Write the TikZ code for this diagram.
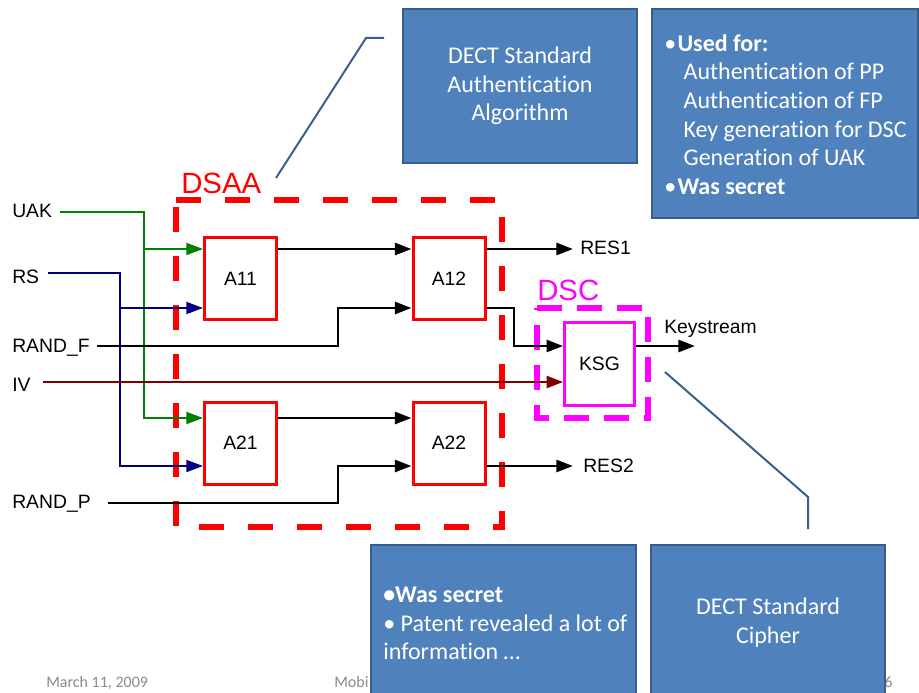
\documentclass[tikz,border=0pt]{standalone}
\usepackage{fontspec}
\setmainfont{Liberation Sans}
\newfontfamily\calibri[Ligatures={NoCommon}]{Carlito}
\usetikzlibrary{arrows.meta,calc}
\definecolor{boxblue}{HTML}{4F81BD}
\definecolor{boxedge}{HTML}{385D8A}
\definecolor{wgreen}{HTML}{008000}
\definecolor{wnavy}{HTML}{000080}
\definecolor{wdred}{HTML}{800000}
\definecolor{callout}{HTML}{3B5F8E}
\definecolor{footgray}{HTML}{8A8A8A}
\definecolor{dscmag}{RGB}{255,0,255}
\definecolor{dsared}{RGB}{255,0,0}
\begin{document}
\begin{tikzpicture}[x=0.75pt,y=-0.75pt,
  lab/.style={font=\fontsize{14.5}{17}\selectfont, inner sep=0pt},
  biglab/.style={font=\fontsize{22}{26}\selectfont, inner sep=0pt, anchor=base west},
  algbox/.style={draw=dsared, line width=2.25pt, minimum width=54pt, minimum height=61.5pt, inner sep=0pt, font=\fontsize{14.5}{17}\selectfont},
  ksgbox/.style={draw=dscmag, line width=2pt, minimum width=52.5pt, minimum height=62.25pt, inner sep=0pt, font=\fontsize{14.5}{17}\selectfont},
  bluebox/.style={draw=boxedge, line width=1.5pt, fill=boxblue, text=white, font=\calibri\fontsize{18}{21.5}\selectfont, inner sep=0pt},
  boxtext/.style={text=white, font=\calibri\fontsize{18}{21.5}\selectfont, inner sep=0pt, align=left, anchor=west},
  tip/.style={-{Triangle[length=12.5pt,width=9pt]}},
  bw/.style={line width=2pt, black},
  gw/.style={line width=1.4pt, wgreen},
  nw/.style={line width=1.4pt, wnavy},
  ivw/.style={line width=2pt, wdred},
  co/.style={line width=1.5pt, callout},
  foot/.style={font=\calibri\fontsize{12}{14}\selectfont, text=footgray, inner sep=0pt, anchor=base west},
]
\useasboundingbox (0,0) rectangle (919,692);
\clip (0,0) rectangle (919,692);
\fill[white] (0,0) rectangle (919,692);

% helper rows / columns
\coordinate (yA) at (0,249);
\coordinate (yB) at (0,308);
\coordinate (yF) at (0,346);
\coordinate (yC) at (0,418);
\coordinate (yD) at (0,466);
\coordinate (xU) at (144,0);
\coordinate (xR) at (120,0);
\coordinate (xF) at (338,0);
\coordinate (xK) at (514,0);

% dashed groups
\draw[dsared, line width=4pt, dash pattern=on 18.75pt off 18pt] (176,200) -- (502,200) -- (502,527) -- (176,527) -- cycle;
\draw[dscmag, line width=4pt, dash pattern=on 18.75pt off 11.25pt] (537,308) -- (648,308) -- (648,418) -- (537,418) -- cycle;
\node[biglab, text=dsared] (dsaalab) at (181,193) {DSAA};
\node[biglab, text=dscmag] (dsclab) at (537,300) {DSC};

% input labels
\node[lab, anchor=base west] (uak) at (12,217) {UAK};
\node[lab, anchor=base west] (rs) at (12,283) {RS};
\node[lab, anchor=base west] (randf) at (12,352) {RAND\_F};
\node[lab, anchor=base west] (iv) at (12,391) {IV};
\node[lab, anchor=base west] (randp) at (12,508) {RAND\_P};

% blocks
\node[algbox] (A11) at (240.5,278.5) {A11};
\node[algbox] (A21) at (240.5,443) {A21};
\node[algbox] (A12) at (449,278.5) {A12};
\node[algbox] (A22) at (449,443) {A22};
\node[ksgbox] (KSG) at (599.5,364) {KSG};

% output labels
\node[lab, anchor=base west] (res1) at (580,254) {RES1};
\node[lab, anchor=base west] (res2) at (583,472) {RES2};
\node[lab, anchor=base west] (ks) at (664,333) {Keystream};

% wire starts
\coordinate (uakS) at (60,212);
\coordinate (rsS) at (48,273);
\coordinate (rfS) at (97,346);
\coordinate (ivS) at (43,382);
\coordinate (rpS) at (108,503);
\coordinate (ksE) at (695,346);

% UAK
\draw[gw,tip] (uakS) -| (xU|-yC) -- (A21.west|-yC);
\draw[gw,tip] (xU|-yA) -- (A11.west|-yA);
% RS
\draw[nw,tip] (rsS) -| (xR|-yD) -- (A21.west|-yD);
\draw[nw,tip] (xR|-yB) -- (A11.west|-yB);
% RAND_F
\draw[bw,tip] (rfS) -- (xF|-rfS) |- (A12.west|-yB);
% IV
\draw[ivw,tip] (ivS) -- (KSG.west|-ivS);
% RAND_P
\draw[bw,tip] (rpS) -- (xF|-rpS) |- (A22.west|-yD);
% internal
\draw[bw,tip] (A11.east|-yA) -- (A12.west|-yA);
\draw[bw,tip] (A21.east|-yC) -- (A22.west|-yC);
\draw[bw,tip] (A12.east|-yA) -- ($(res1.west|-yA)+(-7,0)$);
\draw[bw,tip] (A22.east|-yD) -- ($(res2.west|-yD)+(-10,0)$);
\draw[bw,tip] (A12.east|-yB) -- (xK|-yB) -- (xK|-yF) -- (KSG.west|-yF);
\draw[bw,tip] (KSG.east|-yF) -- (ksE);

% footer
\node[foot] (date) at (46,687) {March 11, 2009};
\node[foot] (mobi) at (334,687) {Mobi};
\node[foot] (pg) at (884,687) {6};

% callout boxes
\node[bluebox, minimum width=175.5pt, minimum height=115.5pt, align=center] (dsaabox) at (520,86) {DECT Standard\\Authentication\\Algorithm};
\node[bluebox, minimum width=199.5pt, minimum height=156.75pt] (usebox) at (784.5,113.5) {};
\node[boxtext] (usetext) at (664,114.5)
  {•\hspace{1pt}\textbf{Used for:}\\
   \hspace*{14.5pt}Authentication of PP\\
   \hspace*{14.5pt}Authentication of FP\\
   \hspace*{14.5pt}Key generation for DSC\\
   \hspace*{14.5pt}Generation of UAK\\
   •\hspace{1pt}\textbf{Was secret}};
\node[bluebox, minimum width=198.75pt, minimum height=117.75pt] (secbox) at (503.5,623.5) {};
\node[boxtext] (sectext) at (383,623.5)
  {\textbf{•Was secret}\\
   • Patent revealed a lot of\\
   information …};
\node[bluebox, minimum width=175.5pt, minimum height=116.25pt, align=center] (dscbox) at (768,622.5) {DECT Standard\\Cipher};

% callout lines
\coordinate (c1a) at (276,178);
\coordinate (c1b) at (366,38);
\coordinate (c1c) at (384,38);
\coordinate (c2a) at (665,372);
\coordinate (c2b) at (808,497);
\coordinate (c2c) at (808,529);
\draw[co] (c1a) -- (c1b) -- (c1c);
\draw[co] (c2a) -- (c2b) -- (c2c);
\end{tikzpicture}
\end{document}
